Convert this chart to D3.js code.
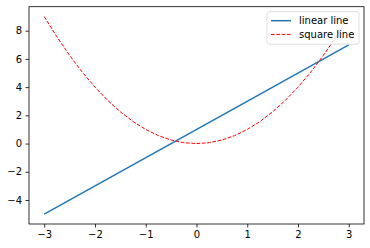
<!DOCTYPE html>
<html>
<head>
<meta charset="utf-8">
<script src="https://cdn.jsdelivr.net/npm/d3@7"></script>
<style>
    body { margin: 0; background: #fff; }
    text { font-family: "DejaVu Sans", sans-serif; font-size: 10px; fill: #000; }
</style>
</head>
<body>
<div id="chart-area"></div>
<script>

// data
var linearX = [-3, 3];
var linearY = [-5, 7];

var squareX = [-3, -2.75, -2.5, -2.25, -2, -1.75, -1.5, -1.25, -1, -0.75, -0.5, -0.25, 0,
               0.25, 0.5, 0.75, 1, 1.25, 1.5, 1.75, 2, 2.25, 2.5, 2.75, 3];
var squareY = [9, 7.5625, 6.25, 5.0625, 4, 3.0625, 2.25, 1.5625, 1, 0.5625, 0.25, 0.0625, 0,
               0.0625, 0.25, 0.5625, 1, 1.5625, 2.25, 3.0625, 4, 5.0625, 6.25, 7.5625, 9];

var xTicks = [-3, -2, -1, 0, 1, 2, 3];
var yTicks = [-4, -2, 0, 2, 4, 6, 8];

var legendLabels = ["linear line", "square line"];


/*
 * Line chart
 */

var margin = { top: 6.7, right: 6, bottom: 24, left: 29 };
var width = 370 - margin.left - margin.right,
    height = 248 - margin.top - margin.bottom;

var svg = d3.select("#chart-area").append("svg")
    .attr("width", 370)
    .attr("height", 248)
    .append("g")
    .attr("transform", "translate(" + margin.left + "," + margin.top + ")");

var x = d3.scaleLinear()
    .domain([-3.3, 3.3])
    .range([0, width]);

var y = d3.scaleLinear()
    .domain([-5.7, 9.7])
    .range([height, 0]);

var line = d3.line()
    .x(function(d) { return x(d[0]); })
    .y(function(d) { return y(d[1]); });

var fmt = function(d) { return d < 0 ? "\u2212" + Math.abs(d) : "" + d; };

// axes
var xAxis = d3.axisBottom(x).tickValues(xTicks).tickSize(3.5).tickPadding(3.5).tickFormat(fmt);
var yAxis = d3.axisLeft(y).tickValues(yTicks).tickSize(3.5).tickPadding(3.5).tickFormat(fmt);

var gx = svg.append("g")
    .attr("transform", "translate(0," + height + ")")
    .call(xAxis);
var gy = svg.append("g").call(yAxis);

[gx, gy].forEach(function(g) {
    g.select(".domain").remove();
    g.selectAll("line").attr("stroke", "#000").attr("stroke-width", 0.8);
    g.selectAll("text").attr("font-family", "DejaVu Sans").attr("font-size", 10).attr("fill", "#000");
});

// lines
svg.append("path")
    .datum(d3.zip(linearX, linearY))
    .attr("d", line)
    .attr("fill", "none")
    .attr("stroke", "#1f77b4")
    .attr("stroke-width", 1.5);

svg.append("path")
    .datum(d3.zip(squareX, squareY))
    .attr("d", line)
    .attr("fill", "none")
    .attr("stroke", "#ff0000")
    .attr("stroke-width", 1)
    .attr("stroke-dasharray", "3.7,1.6");

// frame
svg.append("rect")
    .attr("width", width)
    .attr("height", height)
    .attr("fill", "none")
    .attr("stroke", "#000")
    .attr("stroke-width", 0.8);

// legend
var legW = 92, legH = 32.5;
var legend = svg.append("g")
    .attr("transform", "translate(" + (width - 5 - legW) + ",5)");

legend.append("rect")
    .attr("width", legW)
    .attr("height", legH)
    .attr("rx", 2)
    .attr("fill", "#fff")
    .attr("fill-opacity", 0.8)
    .attr("stroke", "#cccccc")
    .attr("stroke-opacity", 0.8)
    .attr("stroke-width", 0.8);

var styles = [
    { color: "#1f77b4", w: 1.5, dash: null },
    { color: "#ff0000", w: 1, dash: "3.7,1.6" }
];

var item = legend.selectAll(".item")
    .data(legendLabels)
    .enter().append("g")
    .attr("transform", function(d, i) { return "translate(0," + (9 + i * 13.7) + ")"; });

item.append("line")
    .attr("x1", 4).attr("x2", 24)
    .attr("stroke", function(d, i) { return styles[i].color; })
    .attr("stroke-width", function(d, i) { return styles[i].w; })
    .attr("stroke-dasharray", function(d, i) { return styles[i].dash; });

item.append("text")
    .attr("x", 32)
    .attr("dy", "0.35em")
    .text(function(d) { return d; });

</script>
</body>
</html>
